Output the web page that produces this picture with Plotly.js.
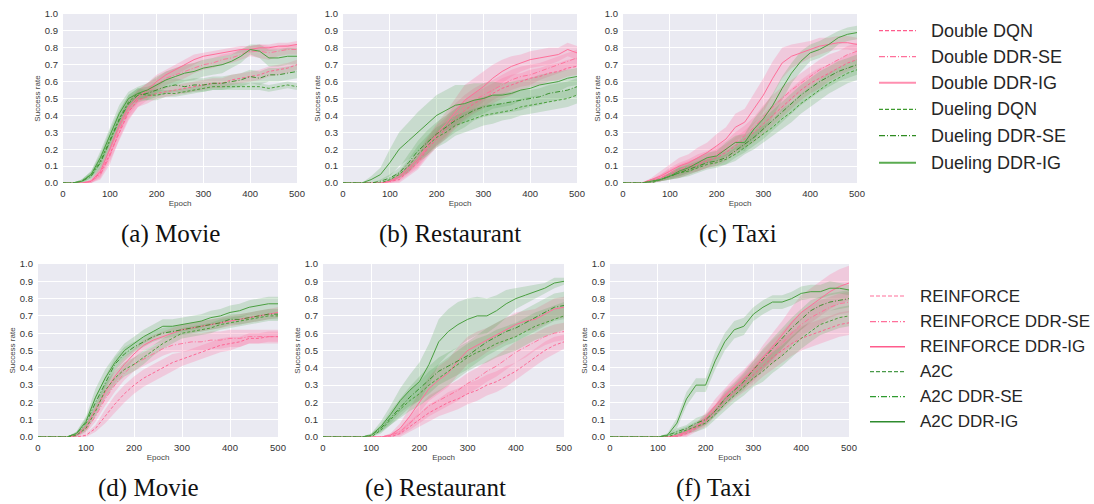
<!DOCTYPE html>
<html>
<head>
<meta charset="utf-8">
<script src="https://cdn.plot.ly/plotly-3.0.1.min.js"></script>
<style>html,body{margin:0;padding:0;background:#fff;}#chart{width:1094px;height:504px;}</style>
</head>
<body>
<div id="chart"></div>
<script>
// ---------- DATA ----------
const epochs = [0,20,40,60,80,100,120,140,160,180,200,220,240,260,280,300,320,340,360,380,400,420,440,460,480,500];

// (a) Movie — DQN family
const aDoubleDQN   = [0,0,0,0.01,0.06,0.17,0.30,0.42,0.49,0.51,0.53,0.54,0.55,0.56,0.57,0.58,0.59,0.59,0.61,0.62,0.63,0.64,0.66,0.67,0.68,0.70];
const aDoubleSE    = [0,0,0,0.01,0.05,0.16,0.31,0.43,0.50,0.54,0.58,0.62,0.64,0.66,0.68,0.70,0.71,0.73,0.74,0.76,0.78,0.78,0.77,0.78,0.79,0.79];
const aDoubleIG    = [0,0,0,0.01,0.07,0.20,0.34,0.45,0.51,0.55,0.60,0.64,0.67,0.70,0.73,0.75,0.76,0.77,0.78,0.79,0.79,0.80,0.80,0.81,0.81,0.82];
const aDuelDQN     = [0,0,0.01,0.05,0.13,0.26,0.38,0.48,0.53,0.52,0.52,0.53,0.53,0.54,0.55,0.56,0.57,0.57,0.57,0.57,0.57,0.57,0.56,0.57,0.58,0.57];
const aDuelSE      = [0,0,0.01,0.04,0.12,0.24,0.37,0.47,0.52,0.53,0.55,0.57,0.58,0.57,0.58,0.58,0.59,0.59,0.60,0.61,0.63,0.62,0.64,0.64,0.65,0.66];
const aDuelIG      = [0,0,0.01,0.05,0.15,0.28,0.41,0.50,0.53,0.55,0.58,0.61,0.63,0.65,0.66,0.68,0.69,0.70,0.72,0.75,0.79,0.78,0.74,0.74,0.75,0.75];
const aDoubleDQNsd = [0,0,0,0.01,0.03,0.04,0.05,0.05,0.04,0.04,0.03,0.03,0.03,0.03,0.03,0.03,0.03,0.03,0.03,0.03,0.03,0.03,0.03,0.03,0.03,0.03];
const aDoubleSEsd  = [0,0,0,0.01,0.03,0.05,0.05,0.05,0.05,0.05,0.04,0.04,0.04,0.04,0.03,0.03,0.03,0.03,0.03,0.03,0.03,0.04,0.04,0.03,0.03,0.03];
const aDoubleIGsd  = [0,0,0,0.01,0.03,0.05,0.05,0.05,0.04,0.04,0.04,0.03,0.03,0.03,0.03,0.02,0.02,0.02,0.02,0.02,0.02,0.02,0.02,0.02,0.02,0.02];
const aDuelDQNsd   = [0,0,0.01,0.02,0.04,0.05,0.05,0.04,0.03,0.03,0.03,0.02,0.02,0.02,0.02,0.02,0.02,0.02,0.02,0.02,0.02,0.02,0.02,0.02,0.02,0.02];
const aDuelSEsd    = [0,0,0.01,0.02,0.04,0.05,0.05,0.05,0.04,0.04,0.04,0.04,0.04,0.04,0.04,0.04,0.04,0.04,0.04,0.04,0.04,0.04,0.04,0.04,0.04,0.04];
const aDuelIGsd    = [0,0,0.01,0.02,0.04,0.05,0.05,0.04,0.04,0.04,0.05,0.05,0.05,0.05,0.05,0.05,0.05,0.05,0.04,0.04,0.03,0.04,0.05,0.05,0.05,0.05];

// (b) Restaurant — DQN family
const bDoubleDQN   = [0,0,0,0,0,0.01,0.02,0.07,0.12,0.20,0.26,0.32,0.38,0.43,0.47,0.50,0.53,0.56,0.58,0.60,0.62,0.63,0.65,0.66,0.68,0.69];
const bDoubleSE    = [0,0,0,0,0,0.01,0.03,0.08,0.13,0.21,0.28,0.33,0.40,0.45,0.49,0.52,0.55,0.58,0.61,0.63,0.64,0.66,0.68,0.70,0.72,0.74];
const bDoubleIG    = [0,0,0,0,0,0.01,0.04,0.09,0.14,0.22,0.29,0.35,0.42,0.49,0.53,0.57,0.62,0.66,0.69,0.71,0.73,0.74,0.75,0.76,0.79,0.77];
const bDuelDQN     = [0,0,0,0,0,0.02,0.05,0.10,0.17,0.22,0.27,0.30,0.34,0.36,0.38,0.40,0.41,0.42,0.43,0.45,0.46,0.47,0.48,0.49,0.50,0.52];
const bDuelSE      = [0,0,0,0,0.01,0.03,0.06,0.12,0.19,0.24,0.29,0.33,0.37,0.40,0.43,0.45,0.46,0.47,0.48,0.49,0.50,0.51,0.53,0.54,0.55,0.57];
const bDuelIG      = [0,0,0,0.02,0.05,0.12,0.20,0.25,0.30,0.35,0.40,0.43,0.46,0.47,0.49,0.50,0.52,0.52,0.53,0.55,0.56,0.58,0.59,0.60,0.62,0.63];
const bDoubleDQNsd = [0,0,0,0,0,0.01,0.02,0.03,0.04,0.05,0.05,0.06,0.06,0.06,0.06,0.06,0.06,0.06,0.06,0.05,0.05,0.05,0.05,0.05,0.05,0.05];
const bDoubleSEsd  = [0,0,0,0,0,0.01,0.02,0.03,0.04,0.05,0.06,0.06,0.07,0.07,0.07,0.07,0.06,0.06,0.06,0.06,0.06,0.05,0.05,0.05,0.05,0.05];
const bDoubleIGsd  = [0,0,0,0,0,0.01,0.02,0.03,0.04,0.05,0.06,0.07,0.08,0.09,0.09,0.09,0.08,0.07,0.06,0.05,0.05,0.05,0.05,0.04,0.04,0.04];
const bDuelDQNsd   = [0,0,0,0,0,0.01,0.02,0.04,0.05,0.06,0.06,0.06,0.06,0.06,0.06,0.06,0.06,0.05,0.05,0.05,0.05,0.05,0.05,0.05,0.05,0.05];
const bDuelSEsd    = [0,0,0,0,0.01,0.02,0.03,0.05,0.06,0.07,0.07,0.07,0.07,0.07,0.06,0.06,0.06,0.06,0.06,0.06,0.05,0.05,0.05,0.05,0.05,0.05];
const bDuelIGsd    = [0,0,0,0.02,0.04,0.08,0.10,0.11,0.12,0.12,0.12,0.12,0.12,0.11,0.10,0.09,0.08,0.07,0.07,0.06,0.06,0.06,0.06,0.06,0.05,0.05];

// (c) Taxi — DQN family
const cDoubleDQN   = [0,0,0,0.01,0.03,0.05,0.07,0.09,0.11,0.13,0.15,0.18,0.22,0.26,0.30,0.35,0.40,0.45,0.50,0.55,0.59,0.62,0.65,0.68,0.71,0.73];
const cDoubleSE    = [0,0,0,0.01,0.03,0.06,0.08,0.10,0.12,0.14,0.17,0.20,0.24,0.28,0.33,0.39,0.45,0.50,0.55,0.59,0.63,0.67,0.70,0.73,0.76,0.78];
const cDoubleIG    = [0,0,0,0.02,0.04,0.07,0.10,0.12,0.15,0.18,0.22,0.26,0.33,0.36,0.44,0.52,0.62,0.71,0.75,0.77,0.79,0.81,0.82,0.83,0.83,0.82];
const cDuelDQN     = [0,0,0,0,0.02,0.04,0.06,0.07,0.09,0.11,0.12,0.14,0.17,0.21,0.25,0.29,0.33,0.38,0.42,0.47,0.51,0.55,0.59,0.62,0.65,0.67];
const cDuelSE      = [0,0,0,0.01,0.02,0.04,0.06,0.08,0.10,0.12,0.13,0.15,0.19,0.23,0.27,0.32,0.37,0.42,0.47,0.52,0.56,0.60,0.63,0.66,0.68,0.70];
const cDuelIG      = [0,0,0,0.01,0.02,0.04,0.07,0.09,0.12,0.15,0.16,0.20,0.24,0.24,0.32,0.38,0.46,0.56,0.65,0.72,0.77,0.79,0.82,0.86,0.88,0.89];
const cDoubleDQNsd = [0,0,0,0.01,0.02,0.03,0.04,0.04,0.04,0.04,0.05,0.05,0.05,0.05,0.06,0.06,0.06,0.06,0.06,0.06,0.06,0.06,0.05,0.05,0.05,0.05];
const cDoubleSEsd  = [0,0,0,0.01,0.02,0.03,0.04,0.04,0.05,0.05,0.05,0.05,0.06,0.06,0.06,0.07,0.07,0.07,0.06,0.06,0.06,0.06,0.06,0.05,0.05,0.05];
const cDoubleIGsd  = [0,0,0,0.01,0.03,0.04,0.05,0.05,0.06,0.06,0.07,0.07,0.08,0.08,0.09,0.10,0.10,0.09,0.07,0.06,0.05,0.05,0.04,0.04,0.04,0.04];
const cDuelDQNsd   = [0,0,0,0,0.01,0.02,0.03,0.03,0.03,0.03,0.03,0.03,0.04,0.04,0.05,0.05,0.05,0.06,0.06,0.06,0.06,0.06,0.06,0.06,0.06,0.06];
const cDuelSEsd    = [0,0,0,0.01,0.01,0.02,0.03,0.03,0.03,0.03,0.03,0.04,0.04,0.05,0.05,0.06,0.06,0.06,0.06,0.06,0.06,0.06,0.06,0.06,0.06,0.06];
const cDuelIGsd    = [0,0,0,0.01,0.01,0.02,0.03,0.03,0.03,0.03,0.03,0.04,0.04,0.05,0.06,0.07,0.07,0.07,0.06,0.06,0.05,0.05,0.05,0.04,0.04,0.04];

// (d) Movie — policy gradient family
const dRein        = [0,0,0,0,0,0.01,0.05,0.12,0.19,0.25,0.30,0.34,0.37,0.40,0.43,0.45,0.47,0.49,0.51,0.53,0.54,0.55,0.57,0.57,0.58,0.58];
const dReinSE      = [0,0,0,0,0.01,0.04,0.12,0.22,0.30,0.37,0.42,0.45,0.48,0.51,0.53,0.54,0.55,0.55,0.56,0.56,0.57,0.57,0.58,0.58,0.58,0.58];
const dReinIG      = [0,0,0,0,0.01,0.06,0.16,0.26,0.35,0.42,0.48,0.53,0.56,0.58,0.60,0.62,0.63,0.64,0.65,0.66,0.67,0.68,0.69,0.70,0.71,0.72];
const dA2C         = [0,0,0,0,0.01,0.05,0.15,0.27,0.34,0.39,0.42,0.46,0.50,0.54,0.57,0.60,0.61,0.62,0.63,0.65,0.66,0.67,0.68,0.69,0.70,0.70];
const dA2CSE       = [0,0,0,0,0.02,0.08,0.20,0.31,0.42,0.48,0.52,0.55,0.58,0.60,0.61,0.62,0.63,0.64,0.65,0.66,0.68,0.68,0.69,0.70,0.71,0.71];
const dA2CIG       = [0,0,0,0,0.02,0.09,0.23,0.34,0.43,0.50,0.54,0.58,0.61,0.64,0.64,0.65,0.66,0.67,0.69,0.70,0.72,0.73,0.75,0.76,0.77,0.77];
const dReinsd      = [0,0,0,0,0,0.01,0.02,0.04,0.05,0.05,0.05,0.05,0.05,0.05,0.05,0.04,0.04,0.04,0.04,0.04,0.04,0.03,0.03,0.03,0.03,0.03];
const dReinSEsd    = [0,0,0,0,0.01,0.02,0.03,0.04,0.04,0.04,0.04,0.04,0.04,0.04,0.04,0.05,0.05,0.05,0.05,0.05,0.05,0.05,0.04,0.04,0.04,0.04];
const dReinIGsd    = [0,0,0,0,0.01,0.02,0.03,0.04,0.04,0.04,0.03,0.03,0.03,0.03,0.03,0.03,0.03,0.03,0.03,0.03,0.03,0.03,0.03,0.03,0.03,0.03];
const dA2Csd       = [0,0,0,0,0.01,0.02,0.03,0.04,0.04,0.04,0.04,0.04,0.03,0.03,0.03,0.03,0.03,0.03,0.03,0.03,0.03,0.03,0.03,0.03,0.03,0.03];
const dA2CSEsd     = [0,0,0,0,0.01,0.03,0.04,0.04,0.04,0.04,0.03,0.03,0.03,0.03,0.03,0.03,0.03,0.03,0.03,0.03,0.03,0.03,0.03,0.03,0.03,0.03];
const dA2CIGsd     = [0,0,0,0,0.01,0.03,0.05,0.05,0.04,0.04,0.04,0.04,0.04,0.04,0.04,0.04,0.04,0.04,0.04,0.04,0.04,0.04,0.04,0.04,0.04,0.04];

// (e) Restaurant — policy gradient family
const eRein        = [0,0,0,0,0,0,0,0,0.02,0.06,0.10,0.14,0.17,0.20,0.22,0.25,0.27,0.30,0.32,0.35,0.38,0.42,0.46,0.50,0.53,0.55];
const eReinSE      = [0,0,0,0,0,0,0,0.01,0.03,0.08,0.13,0.18,0.21,0.24,0.27,0.31,0.34,0.38,0.41,0.45,0.49,0.52,0.55,0.58,0.60,0.61];
const eReinIG      = [0,0,0,0,0,0,0,0.01,0.05,0.12,0.20,0.28,0.33,0.37,0.44,0.50,0.53,0.56,0.59,0.62,0.65,0.67,0.68,0.71,0.74,0.75];
const eA2C         = [0,0,0,0,0,0,0.04,0.10,0.16,0.21,0.25,0.30,0.34,0.38,0.42,0.46,0.49,0.51,0.54,0.56,0.58,0.61,0.64,0.66,0.68,0.70];
const eA2CSE       = [0,0,0,0,0,0.01,0.05,0.11,0.17,0.23,0.28,0.33,0.38,0.41,0.44,0.47,0.51,0.55,0.58,0.61,0.63,0.66,0.69,0.72,0.75,0.76];
const eA2CIG       = [0,0,0,0,0,0.01,0.06,0.13,0.21,0.27,0.32,0.42,0.55,0.61,0.65,0.68,0.70,0.70,0.73,0.77,0.80,0.82,0.84,0.86,0.89,0.90];
const eReinsd      = [0,0,0,0,0,0,0,0.01,0.02,0.03,0.04,0.05,0.05,0.06,0.06,0.06,0.06,0.06,0.06,0.06,0.05,0.05,0.05,0.05,0.05,0.04];
const eReinSEsd    = [0,0,0,0,0,0,0,0.01,0.02,0.04,0.05,0.06,0.06,0.06,0.06,0.06,0.06,0.06,0.06,0.06,0.06,0.06,0.05,0.05,0.05,0.05];
const eReinIGsd    = [0,0,0,0,0,0,0,0.01,0.03,0.05,0.06,0.07,0.08,0.08,0.08,0.08,0.08,0.07,0.07,0.07,0.07,0.06,0.06,0.06,0.06,0.06];
const eA2Csd       = [0,0,0,0,0,0,0.02,0.03,0.05,0.06,0.07,0.08,0.08,0.08,0.08,0.08,0.08,0.08,0.08,0.08,0.08,0.08,0.08,0.08,0.08,0.08];
const eA2CSEsd     = [0,0,0,0,0,0.01,0.02,0.04,0.05,0.06,0.07,0.08,0.08,0.08,0.08,0.08,0.08,0.08,0.08,0.08,0.08,0.08,0.08,0.08,0.08,0.08];
const eA2CIGsd     = [0,0,0,0,0,0.01,0.03,0.05,0.07,0.09,0.11,0.12,0.13,0.13,0.13,0.12,0.11,0.10,0.09,0.08,0.06,0.05,0.04,0.03,0.03,0.02];

// (f) Taxi — policy gradient family
const fRein        = [0,0,0,0,0,0,0,0,0.02,0.05,0.09,0.15,0.21,0.26,0.31,0.36,0.41,0.46,0.50,0.54,0.57,0.59,0.61,0.63,0.65,0.66];
const fReinSE      = [0,0,0,0,0,0,0,0,0.03,0.06,0.10,0.16,0.23,0.28,0.33,0.38,0.44,0.49,0.54,0.60,0.65,0.69,0.72,0.75,0.77,0.78];
const fReinIG      = [0,0,0,0,0,0,0,0.01,0.03,0.06,0.11,0.18,0.24,0.29,0.34,0.39,0.46,0.52,0.59,0.66,0.72,0.76,0.80,0.84,0.87,0.89];
const fA2C         = [0,0,0,0,0,0,0,0.02,0.04,0.06,0.08,0.13,0.19,0.24,0.29,0.34,0.38,0.43,0.47,0.52,0.57,0.61,0.65,0.67,0.69,0.70];
const fA2CSE       = [0,0,0,0,0,0,0.01,0.03,0.05,0.08,0.10,0.15,0.22,0.27,0.32,0.39,0.45,0.51,0.57,0.63,0.68,0.73,0.76,0.78,0.79,0.80];
const fA2CIG       = [0,0,0,0,0,0,0.01,0.08,0.22,0.30,0.30,0.44,0.55,0.62,0.64,0.71,0.75,0.78,0.78,0.80,0.83,0.84,0.84,0.86,0.86,0.85];
const fReinsd      = [0,0,0,0,0,0,0,0.01,0.02,0.02,0.03,0.03,0.04,0.04,0.05,0.06,0.06,0.07,0.07,0.07,0.07,0.07,0.07,0.07,0.07,0.07];
const fReinSEsd    = [0,0,0,0,0,0,0,0.01,0.02,0.02,0.03,0.03,0.04,0.04,0.05,0.06,0.06,0.07,0.07,0.07,0.07,0.07,0.07,0.06,0.06,0.06];
const fReinIGsd    = [0,0,0,0,0,0,0,0.01,0.02,0.02,0.03,0.04,0.04,0.05,0.05,0.06,0.07,0.08,0.08,0.09,0.10,0.10,0.10,0.10,0.10,0.10];
const fA2Csd       = [0,0,0,0,0,0,0.01,0.02,0.02,0.03,0.03,0.03,0.04,0.04,0.05,0.05,0.06,0.06,0.06,0.06,0.06,0.06,0.06,0.06,0.06,0.06];
const fA2CSEsd     = [0,0,0,0,0,0,0.01,0.02,0.02,0.03,0.03,0.03,0.04,0.04,0.05,0.05,0.06,0.06,0.06,0.06,0.06,0.06,0.05,0.05,0.05,0.05];
const fA2CIGsd     = [0,0,0,0,0,0,0.01,0.03,0.04,0.04,0.04,0.05,0.05,0.05,0.05,0.04,0.04,0.04,0.04,0.04,0.04,0.04,0.04,0.04,0.03,0.03];

// Labels
const topLegendLabels    = ['Double DQN','Double DDR-SE','Double DDR-IG','Dueling DQN','Dueling DDR-SE','Dueling DDR-IG'];
const bottomLegendLabels = ['REINFORCE','REINFORCE DDR-SE','REINFORCE DDR-IG','A2C','A2C DDR-SE','A2C DDR-IG'];
const captions = ['(a) Movie','(b) Restaurant','(c) Taxi','(d) Movie','(e) Restaurant','(f) Taxi'];
const xTitle = 'Epoch';
const yTitle = 'Success rate';

// ---------- STYLE ----------
const W = 1094, H = 504;
const px = v => v / W, py = v => 1 - v / H;
const lineStyles = [
  {color:'#ff5c8d', dash:'3px,2px', width:0.9},
  {color:'#ff6f9a', dash:'5px,2px,1px,2px', width:0.9},
  {color:'#ff6f9a', dash:'solid', width:1.0},
  {color:'#3d9a2d', dash:'3px,2px', width:0.9},
  {color:'#2e8b20', dash:'5px,2px,1px,2px', width:0.9},
  {color:'#4a9f40', dash:'solid', width:1.0}
];
const bandColors = ['rgba(255,110,160,0.26)','rgba(255,110,160,0.26)','rgba(255,110,160,0.26)',
                    'rgba(90,170,90,0.24)','rgba(90,170,90,0.24)','rgba(90,170,90,0.24)'];

const panels = [
  {box:[63,297,14,183],  series:[[aDoubleDQN,aDoubleDQNsd],[aDoubleSE,aDoubleSEsd],[aDoubleIG,aDoubleIGsd],[aDuelDQN,aDuelDQNsd],[aDuelSE,aDuelSEsd],[aDuelIG,aDuelIGsd]]},
  {box:[343,577,14,183], series:[[bDoubleDQN,bDoubleDQNsd],[bDoubleSE,bDoubleSEsd],[bDoubleIG,bDoubleIGsd],[bDuelDQN,bDuelDQNsd],[bDuelSE,bDuelSEsd],[bDuelIG,bDuelIGsd]]},
  {box:[623,857,14,183], series:[[cDoubleDQN,cDoubleDQNsd],[cDoubleSE,cDoubleSEsd],[cDoubleIG,cDoubleIGsd],[cDuelDQN,cDuelDQNsd],[cDuelSE,cDuelSEsd],[cDuelIG,cDuelIGsd]]},
  {box:[38,278,264,437], series:[[dRein,dReinsd],[dReinSE,dReinSEsd],[dReinIG,dReinIGsd],[dA2C,dA2Csd],[dA2CSE,dA2CSEsd],[dA2CIG,dA2CIGsd]]},
  {box:[323,564,264,437],series:[[eRein,eReinsd],[eReinSE,eReinSEsd],[eReinIG,eReinIGsd],[eA2C,eA2Csd],[eA2CSE,eA2CSEsd],[eA2CIG,eA2CIGsd]]},
  {box:[610,849,264,437],series:[[fRein,fReinsd],[fReinSE,fReinSEsd],[fReinIG,fReinIGsd],[fA2C,fA2Csd],[fA2CSE,fA2CSEsd],[fA2CIG,fA2CIGsd]]}
];

const traces = [];
const layout = {
  width: W, height: H,
  margin: {l:0, r:0, t:0, b:0},
  paper_bgcolor: '#ffffff',
  plot_bgcolor: '#EAEAF2',
  showlegend: false,
  font: {family: 'Liberation Sans, Arial, sans-serif', color: '#333'},
  shapes: [], annotations: []
};

panels.forEach((p, i) => {
  const n = i + 1;
  const xa = n === 1 ? 'x' : 'x' + n, ya = n === 1 ? 'y' : 'y' + n;
  const xkey = n === 1 ? 'xaxis' : 'xaxis' + n, ykey = n === 1 ? 'yaxis' : 'yaxis' + n;
  const [l, r, t, b] = p.box;
  layout[xkey] = {
    domain: [px(l), px(r)], anchor: ya, range: [0, 500], dtick: 100, tick0: 0,
    showgrid: true, gridcolor: '#ffffff', gridwidth: 1, zeroline: false, showline: false,
    ticks: '', ticklabelstandoff: 3, tickfont: {size: 9.5, color: '#333'},
    title: {text: xTitle, font: {size: 8, color: '#444'}, standoff: 2}
  };
  layout[ykey] = {
    domain: [py(b), py(t)], anchor: xa, range: [0, 1], dtick: 0.1, tick0: 0, tickformat: '.1f',
    showgrid: true, gridcolor: '#ffffff', gridwidth: 1, zeroline: false, showline: false,
    ticks: '', ticklabelstandoff: 4, tickfont: {size: 9.5, color: '#333'},
    title: {text: yTitle, font: {size: 8, color: '#444'}, standoff: 2}
  };
  // bands
  p.series.forEach((s, k) => {
    const [m, sd] = s;
    const upper = m.map((v, j) => v + sd[j]);
    const lower = m.map((v, j) => Math.max(0, v - sd[j]));
    traces.push({
      x: epochs.concat(epochs.slice().reverse()),
      y: upper.concat(lower.slice().reverse()),
      xaxis: xa, yaxis: ya, type: 'scatter', mode: 'lines',
      fill: 'toself', fillcolor: bandColors[k], line: {width: 0, color: 'rgba(0,0,0,0)'},
      hoverinfo: 'skip'
    });
  });
  // lines
  p.series.forEach((s, k) => {
    const st = lineStyles[k];
    traces.push({
      x: epochs, y: s[0], xaxis: xa, yaxis: ya, type: 'scatter', mode: 'lines',
      name: (i < 3 ? topLegendLabels : bottomLegendLabels)[k],
      line: {color: st.color, dash: st.dash, width: st.width}
    });
  });
});

// captions (anchored by their bottom edge)
const capPos = [[170.5,249],[450,249],[738,249],[148,503],[435,503],[713,503]];
captions.forEach((c, i) => {
  layout.annotations.push({
    xref: 'paper', yref: 'paper', x: px(capPos[i][0]), y: py(capPos[i][1]),
    xanchor: 'center', yanchor: 'bottom', showarrow: false, text: c, borderpad: 0,
    font: {family: 'Liberation Serif, Times New Roman, serif', size: 25, color: '#111'}
  });
});

// legends
const topLegendColors = ['#ff5c8d','#ff6f9a','#ff8fb0','#3d9a2d','#2e8b20','#5aab50'];
const topLegendWidths = [1.3,1.3,2,1.3,1.3,2];
const botLegendColors = ['#ff6f9a','#ff6f9a','#ff5c8d','#4a9a4a','#2e9a2e','#2e8b2e'];
const botLegendWidths = [1.2,1.2,1.6,1.2,1.2,1.6];
const dashes = ['4px,2px','6px,2px,1px,2px','solid','4px,2px','6px,2px,1px,2px','solid'];
const topRows = [30.7,56.7,82.7,109.3,135.7,162.7];
const botRows = [296,321.7,346.7,371.7,396.7,421.7];
topLegendLabels.forEach((lab, k) => {
  layout.shapes.push({type:'line', xref:'paper', yref:'paper', x0:px(879), x1:px(916), y0:py(topRows[k]), y1:py(topRows[k]),
    line:{color: topLegendColors[k], width: topLegendWidths[k], dash: dashes[k]}});
  layout.annotations.push({xref:'paper', yref:'paper', x:px(929), y:py(topRows[k]), xanchor:'left', yanchor:'middle',
    showarrow:false, text: lab, font:{family:'Liberation Sans, Arial, sans-serif', size:18, color:'#262626'}});
});
bottomLegendLabels.forEach((lab, k) => {
  layout.shapes.push({type:'line', xref:'paper', yref:'paper', x0:px(870), x1:px(905), y0:py(botRows[k]), y1:py(botRows[k]),
    line:{color: botLegendColors[k], width: botLegendWidths[k], dash: dashes[k]}});
  layout.annotations.push({xref:'paper', yref:'paper', x:px(918), y:py(botRows[k]), xanchor:'left', yanchor:'middle',
    showarrow:false, text: lab, font:{family:'Liberation Sans, Arial, sans-serif', size:17, color:'#262626'}});
});

Plotly.newPlot('chart', traces, layout, {staticPlot: true, displayModeBar: false});
</script>
</body>
</html>
